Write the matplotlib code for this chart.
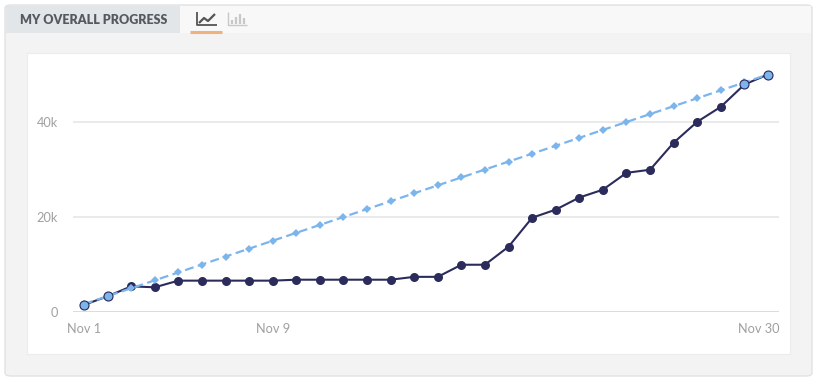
import matplotlib.pyplot as plt
from matplotlib.patches import FancyBboxPatch, Rectangle
from matplotlib.lines import Line2D
from matplotlib.transforms import offset_copy

days = list(range(1, 31))
progress = [1500, 3300, 5400, 5200, 6600, 6600, 6600, 6600, 6600, 6800,
            6800, 6800, 6800, 6800, 7400, 7400, 9950, 9950, 13750, 19850,
            21550, 24100, 25750, 29300, 29950, 35650, 40050, 43200, 47900, 50000]
target = [1667, 3333, 5000, 6667, 8333, 10000, 11667, 13333, 15000, 16667,
          18333, 20000, 21667, 23333, 25000, 26667, 28333, 30000, 31667, 33333,
          35000, 36667, 38333, 40000, 41667, 43333, 45000, 46667, 48333, 50000]
on_track_days = [1, 2, 29, 30]
x_ticks = [1, 9, 30]
x_labels = ["Nov 1", "Nov 9", "Nov 30"]
y_ticks = [0, 20000, 40000]
y_labels = ["0", "20k", "40k"]

W, H = 818, 381
NAVY = "#2b2c5c"
LIGHT = "#7cb5ec"
GREY_TXT = "#a0a0a0"


def box(x, y, w, h):
    # pixel box (top-left origin) -> figure fraction
    return x / W, 1 - (y + h) / H, w / W, h / H


fig = plt.figure(figsize=(W / 100, H / 100), dpi=100)
fig.patch.set_facecolor("white")

# outer panel
x0, y0, w0, h0 = box(5, 5, 807, 371)
fig.add_artist(FancyBboxPatch((x0, y0), w0, h0, boxstyle="round,pad=0,rounding_size=0.008",
                              transform=fig.transFigure, facecolor="#f3f3f3",
                              edgecolor="#e2e2e2", linewidth=1, zorder=-10))
# header strip
x0, y0, w0, h0 = box(6, 6, 805, 27)
fig.add_artist(Rectangle((x0, y0), w0, h0, transform=fig.transFigure,
                         facecolor="#f8f8f8", edgecolor="none", zorder=-9))
# tab
x0, y0, w0, h0 = box(6, 6, 174, 27)
fig.add_artist(Rectangle((x0, y0), w0, h0, transform=fig.transFigure,
                         facecolor="#e3e6e9", edgecolor="none", zorder=-8))
fig.text(20 / W, 1 - 20 / H, "MY OVERALL PROGRESS", fontsize=9.0, fontweight="heavy",
         family="Lato", color="#555a60", va="center", ha="left")

# line-chart icon
def px_line(xs, ys, color, lw):
    fig.add_artist(Line2D([x / W for x in xs], [1 - y / H for y in ys],
                          transform=fig.transFigure, color=color, lw=lw,
                          solid_capstyle="butt"))

px_line([197, 197, 217], [12, 25, 25], "#555555", 1.3)
px_line([199, 204, 208, 215], [23, 18, 21, 14], "#555555", 1.6)
px_line([190, 222], [32, 32], "#f0b27a", 2.2)
# bar-chart icon
px_line([228, 228, 247], [12, 25, 25], "#c8c8c8", 1.0)
for bx, top in [(232, 20), (236, 17), (240, 14), (244, 18)]:
    px_line([bx, bx], [24, top], "#c8c8c8", 1.6)

# inner white card
x0, y0, w0, h0 = box(27, 53, 763, 301)
fig.add_artist(Rectangle((x0, y0), w0, h0, transform=fig.transFigure,
                         facecolor="white", edgecolor="#ececec", linewidth=0.8, zorder=-7))

ymax = 53000
ax_top = 312 - ymax / 210.53
ax = fig.add_axes(box(73, ax_top, 706, 312 - ax_top))
ax.set_facecolor("none")
ax.set_xlim(0.534, 30.466)
ax.set_ylim(0, ymax)

for yt in y_ticks[1:]:
    ax.axhline(yt, color="#e6e6e6", lw=1.2, zorder=0)
ax.axhline(0, color="#ccd6eb", lw=1.2, zorder=0)

ax.plot(days, progress, color=NAVY, lw=1.5, marker="o", markersize=6.5,
        markeredgewidth=0, zorder=2, clip_on=False)
ax.plot(days, target, color=LIGHT, lw=1.6, ls=(0, (4, 2)), marker="D",
        markersize=3.8, markeredgewidth=0, zorder=3, clip_on=False)

idx = [days.index(d) for d in on_track_days]
ax.plot([days[i] for i in idx], [progress[i] for i in idx], ls="none", marker="o",
        markersize=6.5, markerfacecolor=LIGHT, markeredgecolor=NAVY,
        markeredgewidth=0.8, zorder=4, clip_on=False)

for s in ax.spines.values():
    s.set_visible(False)
ax.set_xticks(x_ticks)
ax.set_xticklabels(x_labels)
ax.set_yticks(y_ticks)
ax.set_yticklabels(y_labels)
ax.tick_params(length=0, labelsize=9.2, labelcolor=GREY_TXT)
ax.tick_params(axis="x", pad=8)
ax.tick_params(axis="y", pad=11)
for lbl in ax.get_xticklabels() + ax.get_yticklabels():
    lbl.set_family("Lato")

# last x label is pulled inside the plot edge, as in the original
last = ax.get_xticklabels()[-1]
last.set_horizontalalignment("right")
last.set_transform(offset_copy(last.get_transform(), fig=fig, x=11, y=0, units="dots"))

fig.savefig("out.png", dpi=100, facecolor="white")
